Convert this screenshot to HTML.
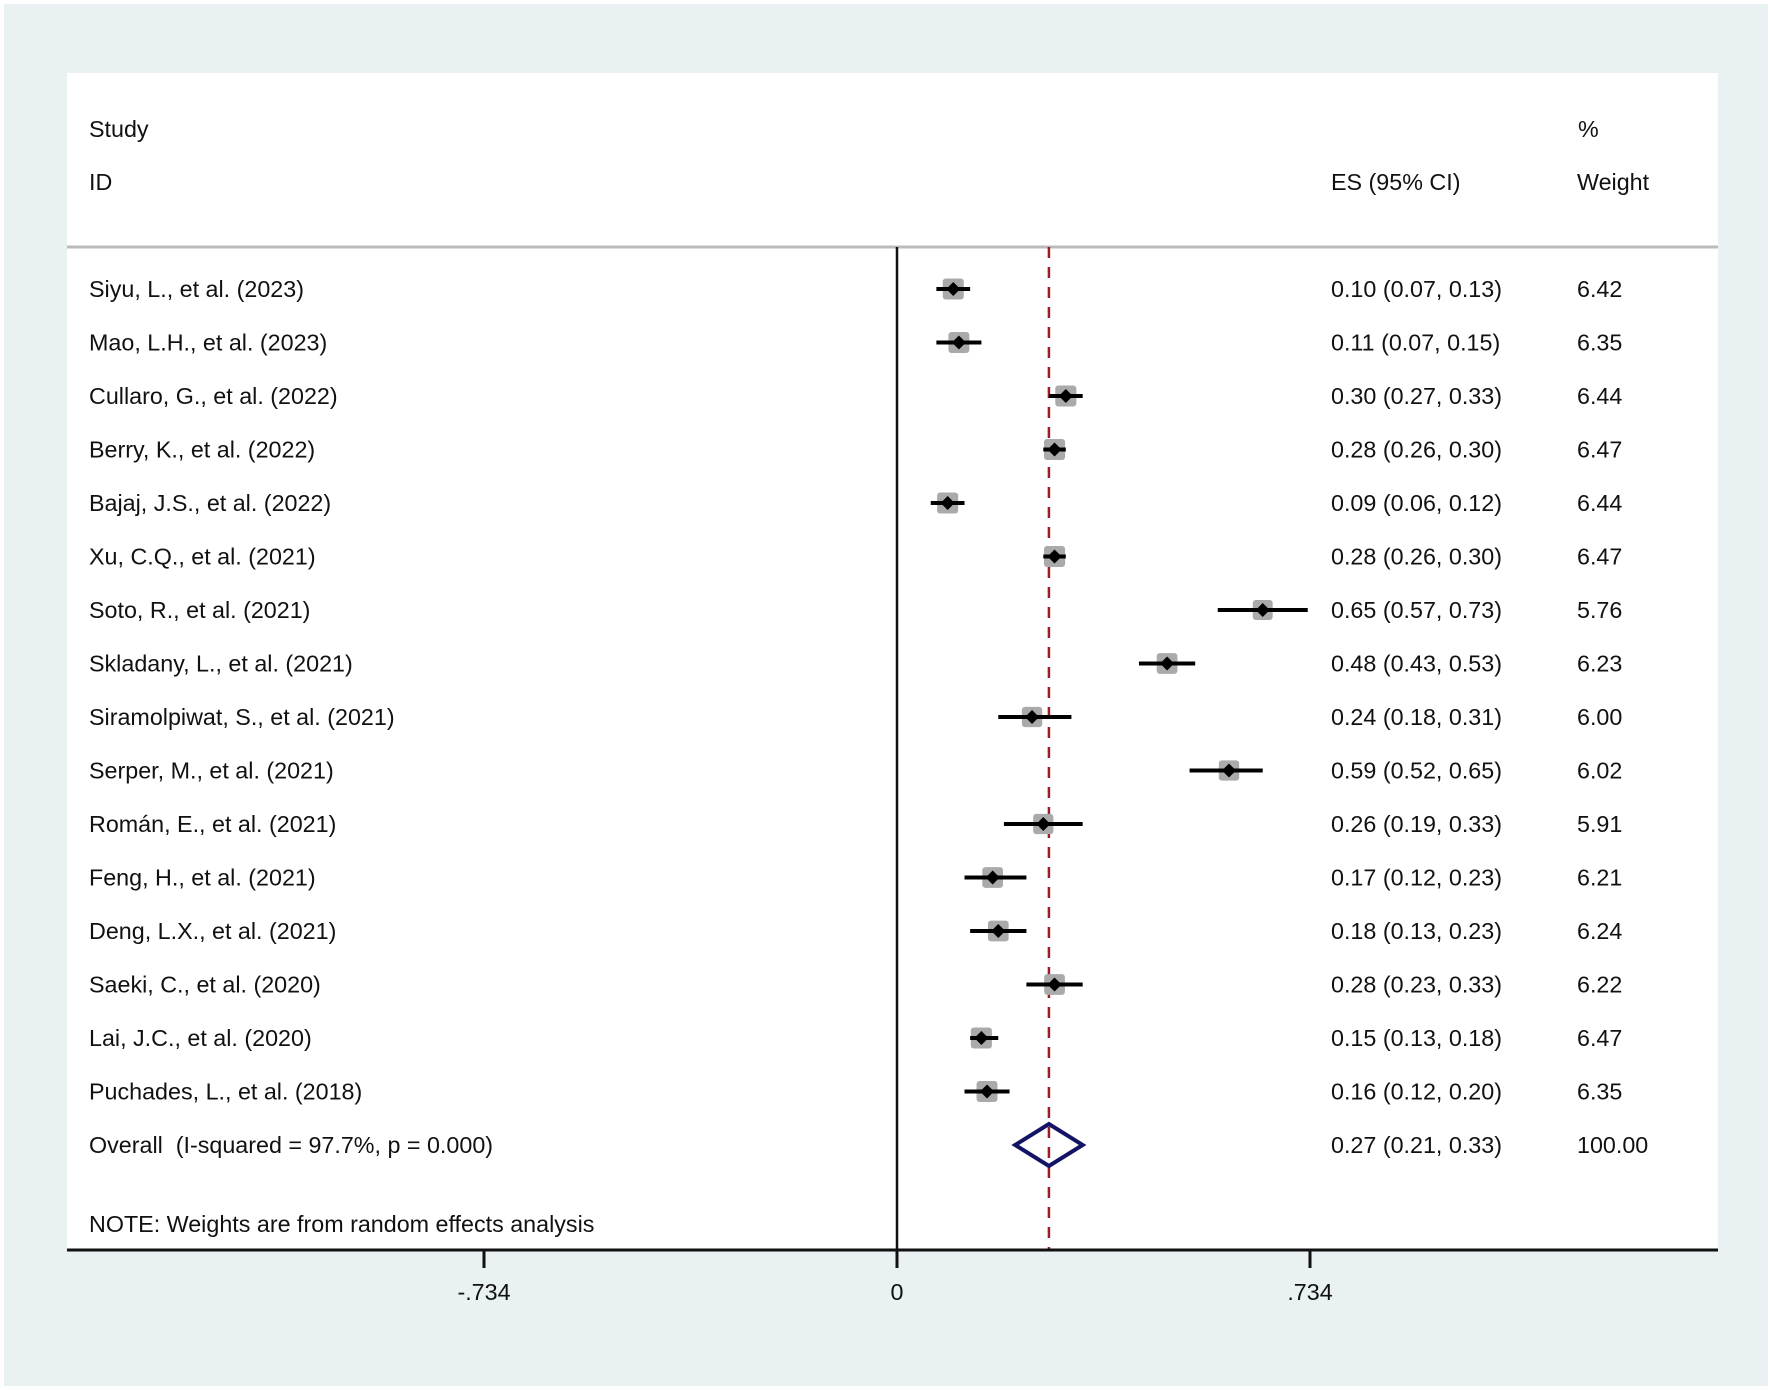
<!DOCTYPE html>
<html><head><meta charset="utf-8"><style>
html,body{margin:0;padding:0;background:#fff}
svg{display:block}
text{font-family:"Liberation Sans",Arial,sans-serif;font-size:23.3px;fill:#111;white-space:pre}
</style></head><body>
<svg id="chart" width="1772" height="1390" viewBox="0 0 1772 1390" xml:space="preserve">
<rect x="4" y="4" width="1764" height="1382" fill="#e9f1f3"/>
<rect x="67" y="73" width="1651" height="1177" fill="#fff"/>
<text x="89" y="137">Study</text>
<text x="89" y="190">ID</text>
<text x="1331" y="190">ES (95% CI)</text>
<text x="1578" y="137">%</text>
<text x="1577" y="190">Weight</text>
<line x1="67" y1="247" x2="1718" y2="247" stroke="#bbb" stroke-width="3"/>
<g id="marks"></g>
<text x="89" y="1232">NOTE: Weights are from random effects analysis</text>
<line x1="67" y1="1250" x2="1718" y2="1250" stroke="#111" stroke-width="3"/>
<g id="ticks"></g>
</svg>
<script>
const studies=["Siyu, L., et al. (2023)","Mao, L.H., et al. (2023)","Cullaro, G., et al. (2022)","Berry, K., et al. (2022)","Bajaj, J.S., et al. (2022)","Xu, C.Q., et al. (2021)","Soto, R., et al. (2021)","Skladany, L., et al. (2021)","Siramolpiwat, S., et al. (2021)","Serper, M., et al. (2021)","Román, E., et al. (2021)","Feng, H., et al. (2021)","Deng, L.X., et al. (2021)","Saeki, C., et al. (2020)","Lai, J.C., et al. (2020)","Puchades, L., et al. (2018)"];
const es=[0.10,0.11,0.30,0.28,0.09,0.28,0.65,0.48,0.24,0.59,0.26,0.17,0.18,0.28,0.15,0.16];
const lo=[0.07,0.07,0.27,0.26,0.06,0.26,0.57,0.43,0.18,0.52,0.19,0.12,0.13,0.23,0.13,0.12];
const hi=[0.13,0.15,0.33,0.30,0.12,0.30,0.73,0.53,0.31,0.65,0.33,0.23,0.23,0.33,0.18,0.20];
const weights=["6.42","6.35","6.44","6.47","6.44","6.47","5.76","6.23","6.00","6.02","5.91","6.21","6.24","6.22","6.47","6.35"];
const overall=[0.27,0.21,0.33];
const overallLabel="Overall  (I-squared = 97.7%, p = 0.000)";
const tickVals=[-0.734,0,0.734];
const tickLabels=["-.734","0",".734"];
const NS="http://www.w3.org/2000/svg";
const X=v=>897+v*(413/0.734);
const Y=i=>289+i*53.5;
const f2=v=>v.toFixed(2);
const g=document.getElementById('marks');
function mk(tag,attrs,parent){const e=document.createElementNS(NS,tag);for(const k in attrs)e.setAttribute(k,attrs[k]);(parent||g).appendChild(e);return e;}
const zl=mk('line',{x1:X(0),y1:247,x2:X(0),y2:1250,stroke:'#111','stroke-width':2.5});


const ol=mk('line',{x1:X(overall[0]),y1:247,x2:X(overall[0]),y2:1250,stroke:'#9b1c24','stroke-width':2.5,'stroke-dasharray':'11 9'});


studies.forEach((s,i)=>{
 const y=Y(i);
 const t=mk('text',{x:89,y:y+8});t.textContent=s;
 
 
 const sz=Math.sqrt(parseFloat(weights[i]))*8.3;
 const sq=mk('rect',{x:X(es[i])-sz/2,y:y-sz/2,width:sz,height:sz,fill:'#aaa',rx:3});
 
 
 const ci=mk('line',{x1:X(lo[i]),y1:y,x2:X(hi[i]),y2:y,stroke:'#000','stroke-width':4});
 
 
 const x=X(es[i]);
 const d=mk('polygon',{points:`${x},${y-7} ${x+7},${y} ${x},${y+7} ${x-7},${y}`,fill:'#000'});
 
 
 const e=mk('text',{x:1331,y:y+8});e.textContent=`${f2(es[i])} (${f2(lo[i])}, ${f2(hi[i])})`;
 
 
 const w=mk('text',{x:1577,y:y+8});w.textContent=weights[i];
 
 
});
const oy=Y(studies.length);
const ot=mk('text',{x:89,y:oy+8});ot.textContent=overallLabel;


const dm=mk('polygon',{points:`${X(overall[1])},${oy} ${X(overall[0])},${oy-21} ${X(overall[2])},${oy} ${X(overall[0])},${oy+21}`,fill:'none',stroke:'#141466','stroke-width':4});


const oe=mk('text',{x:1331,y:oy+8});oe.textContent=`${f2(overall[0])} (${f2(overall[1])}, ${f2(overall[2])})`;


const ow=mk('text',{x:1577,y:oy+8});ow.textContent="100.00";


const tg=document.getElementById('ticks');
tickVals.forEach((v,i)=>{
 const tl=mk('line',{x1:X(v),y1:1250,x2:X(v),y2:1268,stroke:'#111','stroke-width':3},tg);
 
 
 const tt=mk('text',{x:X(v),y:1300,'text-anchor':'middle'},tg);tt.textContent=tickLabels[i];
 
 
});
</script>
</body></html>
